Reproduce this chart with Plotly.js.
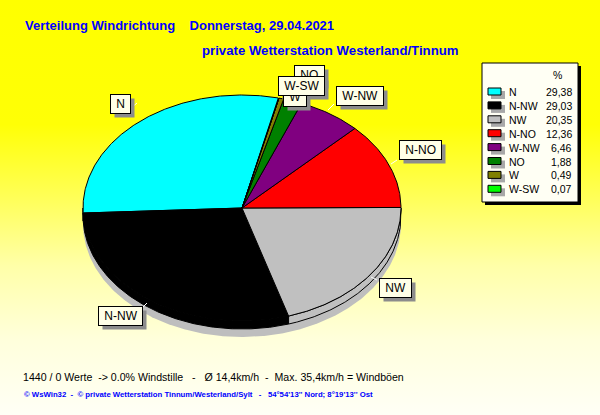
<!DOCTYPE html>
<html><head><meta charset="utf-8">
<script src="https://cdn.plot.ly/plotly-3.0.1.min.js"></script>
<style>
html,body{margin:0;padding:0;width:600px;height:415px;overflow:hidden;}
body{background:linear-gradient(to bottom,#FFFF00 0%,#FFFF06 30%,#FFFF55 47%,#FFFFA8 64%,#FFFFDC 82%,#FFFFF6 100%);}
#chart{width:600px;height:415px;position:relative;}
</style></head><body><div id="chart"></div>
<script>
// ---- data ----
const categories = ['N', 'N-NW', 'NW', 'N-NO', 'W-NW', 'NO', 'W', 'W-SW'];
const percents = [29.38, 29.03, 20.35, 12.36, 6.46, 1.88, 0.49, 0.07];
const sliceColors = ['#00FFFF', '#000000', '#C0C0C0', '#FF0000', '#800080', '#008000', '#808000', '#00FF00'];
const legendHeader = '%';
const titleLine1 = 'Verteilung Windrichtung\u00A0\u00A0\u00A0 Donnerstag, 29.04.2021';
const titleLine2 = 'private Wetterstation Westerland/Tinnum';
const footerLine1 = '1440 / 0 Werte\u00A0 -> 0.0% Windstille\u00A0\u00A0 -\u00A0\u00A0 \u00D8 14,4km/h\u00A0 -\u00A0 Max. 35,4km/h = Windb\u00F6en';
const footerLine2 = '\u00A9 WsWin32\u00A0 -\u00A0 \u00A9 private Wetterstation Tinnum/Westerland/Sylt\u00A0\u00A0 -\u00A0\u00A0 54\u00B054\'13\'\' Nord; 8\u00B019\'13\'\' Ost';

// ---- geometry (pixel-unit axes) ----
const CX = 242, CY = 208, RX = 159, RY = 113, WALL = 8, SHADOW = 16, START = 76.8;
function pt(deg, dy) {
  const r = deg * Math.PI / 180;
  return [CX + RX * Math.cos(r), CY - RY * Math.sin(r) + (dy || 0)];
}
function arc(a, b, dy) {
  const n = Math.max(2, Math.ceil(Math.abs(b - a) / 0.5) + 1);
  const out = [];
  for (let k = 0; k < n; k++) out.push(pt(a + (b - a) * k / (n - 1), dy));
  return out;
}
function poly(points, color, lw) {
  return {
    type: 'scatter', mode: 'lines', x: points.map(p => p[0]), y: points.map(p => p[1]),
    fill: 'toself', fillcolor: color, line: {color: '#000000', width: lw}, hoverinfo: 'skip', showlegend: false
  };
}

const total = percents.reduce((s, v) => s + v, 0);
let acc = START;
const slices = percents.map((v, i) => {
  const span = v / total * 360;
  const s = {a0: acc, a1: acc + span, color: sliceColors[i]};
  acc += span;
  return s;
});

const traces = [];
// shadow
const sh = arc(0, 360, SHADOW);
traces.push({type: 'scatter', mode: 'lines', x: sh.map(p => p[0]), y: sh.map(p => p[1]), fill: 'toself',
  fillcolor: '#BEBEBE', line: {width: 0, color: '#BEBEBE'}, hoverinfo: 'skip', showlegend: false});
// side walls (front half)
slices.forEach(s => {
  const lo = Math.max(s.a0, 180), hi = Math.min(s.a1, 360);
  if (hi > lo) {
    const pts = arc(lo, hi, 0).concat(arc(hi, lo, WALL));
    pts.push(pts[0]);
    traces.push(poly(pts, s.color, 1));
  }
});
// top faces
slices.forEach(s => {
  const pts = [[CX, CY]].concat(arc(s.a0, s.a1, 0));
  pts.push([CX, CY]);
  traces.push(poly(pts, s.color, 1));
});

// ---- annotations ----
const ann = [];
const FONT = 'Liberation Sans, Arial, sans-serif';
ann.push({xref: 'x', yref: 'y', x: 23, y: 25, xanchor: 'left', yanchor: 'middle', showarrow: false,
  text: titleLine1, font: {family: FONT, size: 13, color: '#0000FF', weight: 'bold'}});
ann.push({xref: 'x', yref: 'y', x: 200, y: 50, xanchor: 'left', yanchor: 'middle', showarrow: false,
  text: titleLine2, font: {family: FONT, size: 13.2, color: '#0000FF', weight: 'bold'}});
ann.push({xref: 'x', yref: 'y', x: 21, y: 377, xanchor: 'left', yanchor: 'middle', showarrow: false,
  text: footerLine1, font: {family: FONT, size: 10.6, color: '#000000'}});
ann.push({xref: 'x', yref: 'y', x: 22, y: 394, xanchor: 'left', yanchor: 'middle', showarrow: false,
  text: footerLine2, font: {family: FONT, size: 7.75, color: '#0000FF', weight: 'bold'}});

// pie labels
const labelPos = {
  'N': [120, 104], 'N-NW': [120, 316], 'NW': [395, 288], 'N-NO': [420, 150],
  'W-NW': [360, 96], 'W': [295, 97], 'NO': [309, 75], 'W-SW': [301, 86]
};
const labelOrder = ['N', 'N-NW', 'NW', 'N-NO', 'W-NW', 'W', 'NO', 'W-SW'];
const labelIdx = [];
labelOrder.forEach(c => {
  const p = labelPos[c];
  labelIdx.push(ann.length);
  ann.push({xref: 'x', yref: 'y', x: p[0], y: p[1], showarrow: false, text: '\u00A0' + c + '\u00A0',
    font: {family: FONT, size: 12, color: '#000000'}, bgcolor: '#FFFFE7', bordercolor: '#000000', borderwidth: 1, borderpad: 2});
});

// legend
const shapes = [];
const LX0 = 482, LY0 = 63, LX1 = 578, LY1 = 202, ROW0 = 92, ROWH = 13.9;
shapes.push({type: 'rect', xref: 'x', yref: 'y', x0: LX0 + 3, y0: LY0 + 3, x1: LX1 + 3, y1: LY1 + 3,
  fillcolor: '#000000', line: {width: 0}});
shapes.push({type: 'rect', xref: 'x', yref: 'y', x0: LX0, y0: LY0, x1: LX1, y1: LY1,
  fillcolor: '#FFFFF4', line: {color: '#000000', width: 1}});
ann.push({xref: 'x', yref: 'y', x: 564, y: 75, xanchor: 'right', yanchor: 'middle', showarrow: false,
  text: legendHeader, font: {family: FONT, size: 10.5, color: '#000000'}});
categories.forEach((c, i) => {
  const yy = ROW0 + ROWH * i;
  shapes.push({type: 'rect', xref: 'x', yref: 'y', x0: 491, y0: yy - 1, x1: 505, y1: yy + 7,
    fillcolor: '#A8A8A8', line: {width: 0}});
  shapes.push({type: 'rect', xref: 'x', yref: 'y', x0: 488, y0: yy - 4, x1: 501, y1: yy + 3,
    fillcolor: sliceColors[i], line: {color: '#000000', width: 1}});
  ann.push({xref: 'x', yref: 'y', x: 507, y: yy, xanchor: 'left', yanchor: 'middle', showarrow: false,
    text: c, font: {family: FONT, size: 10.5, color: '#000000'}});
  ann.push({xref: 'x', yref: 'y', x: 574, y: yy, xanchor: 'right', yanchor: 'middle', showarrow: false,
    text: percents[i].toFixed(2).replace('.', ','), font: {family: FONT, size: 10.5, color: '#000000'}});
});

// leader lines
[[131, 108, 137, 103], [140, 310, 147, 303], [377, 280, 371, 277], [334, 104, 328, 110], [397, 160, 391, 164]].forEach(l => {
  shapes.push({type: 'line', xref: 'x', yref: 'y', x0: l[0], y0: l[1], x1: l[2], y1: l[3], line: {color: '#FFFFFF', width: 1}});
});

const layout = {
  width: 600, height: 415, margin: {l: 0, r: 0, t: 0, b: 0},
  paper_bgcolor: 'rgba(0,0,0,0)', plot_bgcolor: 'rgba(0,0,0,0)',
  xaxis: {range: [0, 600], visible: false, fixedrange: true},
  yaxis: {range: [415, 0], visible: false, fixedrange: true},
  showlegend: false, annotations: ann, shapes: shapes
};
Plotly.newPlot('chart', traces, layout, {staticPlot: true, displayModeBar: false}).then(gd => {
  const base = gd.getBoundingClientRect();
  const extra = [];
  labelIdx.forEach(k => {
    const g = gd.querySelector('.annotation[data-index="' + k + '"] rect.bg');
    if (!g) return;
    const r = g.getBoundingClientRect();
    const x0 = r.left - base.left, y0 = r.top - base.top;
    extra.push({type: 'rect', xref: 'x', yref: 'y', layer: 'above', x0: x0 + 4, y0: y0 + 4,
      x1: x0 + r.width + 4, y1: y0 + r.height + 4, fillcolor: '#8C8C8C', line: {width: 0}});
  });
  Plotly.relayout(gd, {shapes: shapes.concat(extra)});
});
</script>
</body></html>
